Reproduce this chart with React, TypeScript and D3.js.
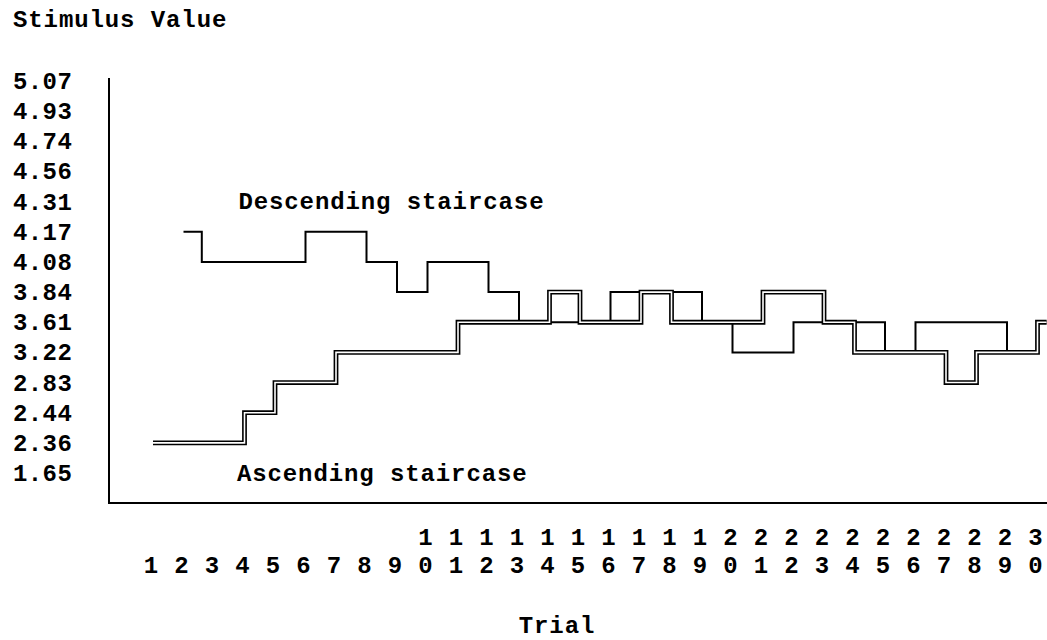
import * as d3 from "d3";

const WIDTH = 1047;
const HEIGHT = 640;
const FONT = "'Liberation Mono', 'DejaVu Sans Mono', monospace";

// stimulus levels, top to bottom, as printed on the y axis
const levels = [
  "5.07", "4.93", "4.74", "4.56", "4.31", "4.17", "4.08",
  "3.84", "3.61", "3.22", "2.83", "2.44", "2.36", "1.65",
];

const trials = d3.range(1, 31);

// staircases as change points: level holds from this trial until the next one
const ascTrial = [1, 4, 5, 7, 11, 14, 15, 17, 18, 21, 23, 24, 27, 28, 30];
const ascValue = [
  "2.36", "2.44", "2.83", "3.22", "3.61", "3.84", "3.61", "3.84",
  "3.61", "3.84", "3.61", "3.22", "2.83", "3.22", "3.61",
];

const descTrial = [2, 2.6, 6, 8, 9, 10, 12, 13, 16, 19, 20, 22, 25, 26, 29, 30];
const descValue = [
  "4.17", "4.08", "4.17", "4.08", "3.84", "4.08", "3.84", "3.61",
  "3.84", "3.61", "3.22", "3.61", "3.22", "3.61", "3.22", "3.61",
];

const END_TRIAL = 30.3;

export default function App() {
  const x = d3.scaleLinear().domain([1, 30]).range([153, 1037.5]);
  const y = d3.scalePoint<string>().domain(levels).range([81, 473]);

  const line = d3
    .line<[number, string]>()
    .x(([t]) => x(t))
    .y(([, v]) => y(v) ?? 0)
    .curve(d3.curveStepAfter);

  const withEnd = (ts: number[], vs: string[]): [number, string][] => {
    const pts = ts.map((t, i) => [t, vs[i]] as [number, string]);
    pts.push([END_TRIAL, vs[vs.length - 1]]);
    return pts;
  };

  const ascPath = line(withEnd(ascTrial, ascValue)) ?? "";
  const descPath = line(withEnd(descTrial, descValue)) ?? "";

  const axisX = 109;
  const axisTop = 78;
  const axisBottom = 503;

  return (
    <svg
      width={WIDTH}
      height={HEIGHT}
      style={{ position: "absolute", left: 0, top: 0, background: "#fff" }}
      fontFamily={FONT}
      fontWeight="bold"
      fontSize={24}
    >
      <text x={13} y={27} letterSpacing={0.9}>
        Stimulus Value
      </text>

      {/* y axis labels */}
      {levels.map((l) => (
        <text key={l} x={13} y={(y(l) ?? 0) + 8} letterSpacing={0.4}>
          {l}
        </text>
      ))}

      {/* axes */}
      <path
        d={`M${axisX},${axisTop} L${axisX},${axisBottom} L${WIDTH},${axisBottom}`}
        fill="none"
        stroke="#000"
        strokeWidth={2}
      />

      {/* trial labels, two rows */}
      {trials.map((t) => {
        const s = String(t);
        const cx = x(t) - 2;
        return (
          <g key={t}>
            {s.length > 1 && (
              <text x={cx} y={545} textAnchor="middle">
                {s[0]}
              </text>
            )}
            <text x={cx} y={573} textAnchor="middle">
              {s[s.length - 1]}
            </text>
          </g>
        );
      })}

      <text x={557} y={633} textAnchor="middle" letterSpacing={0.9}>
        Trial
      </text>

      {/* descending staircase: single line */}
      <path
        d={descPath}
        fill="none"
        stroke="#000"
        strokeWidth={2}
        strokeLinejoin="miter"
      />

      {/* ascending staircase: double line */}
      <path
        d={ascPath}
        fill="none"
        stroke="#000"
        strokeWidth={4.8}
        strokeLinejoin="miter"
      />
      <path
        d={ascPath}
        fill="none"
        stroke="#fff"
        strokeWidth={1.6}
        strokeLinejoin="miter"
      />

      <text x={x(3.8)} y={(y("4.31") ?? 0) + 7} letterSpacing={0.9}>
        Descending staircase
      </text>
      <text x={x(3.75)} y={(y("1.65") ?? 0) + 8} letterSpacing={0.9}>
        Ascending staircase
      </text>
    </svg>
  );
}
